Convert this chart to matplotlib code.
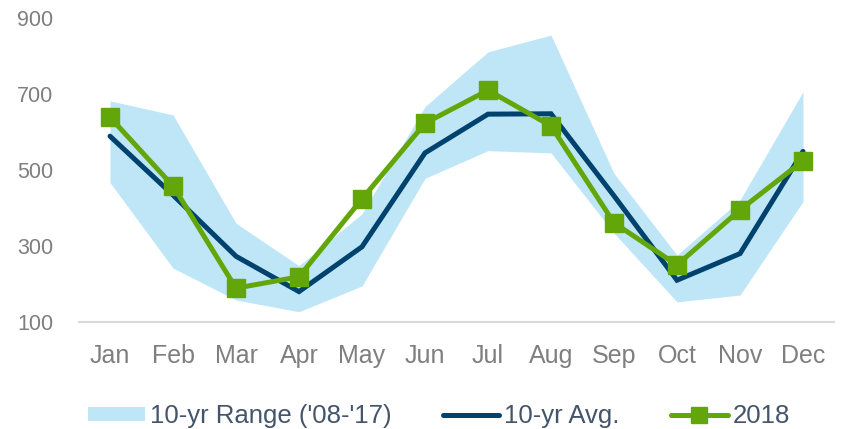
import matplotlib
matplotlib.use("Agg")
import matplotlib.pyplot as plt
import numpy as np
from matplotlib.patches import Patch
from matplotlib.lines import Line2D

months = ["Jan", "Feb", "Mar", "Apr", "May", "Jun",
          "Jul", "Aug", "Sep", "Oct", "Nov", "Dec"]
range_low = [467, 242, 158, 127, 195, 478, 551, 545, 334, 153, 171, 417]
range_high = [682, 645, 360, 248, 385, 667, 811, 855, 491, 276, 421, 706]
avg_10yr = [589, 434, 273, 180, 298, 545, 647, 648, 432, 210, 280, 549]
y2018 = [639, 458, 189, 219, 424, 623, 710, 616, 361, 250, 395, 524]
yticks = [100, 300, 500, 700, 900]

range_color = "#BFE6F6"
avg_color = "#00426E"
green = "#62A60A"

plt.rcParams["font.family"] = ["Liberation Sans", "DejaVu Sans"]

fig = plt.figure(figsize=(8.46, 4.29), dpi=100)
ax = fig.add_axes([0.0928, 0.2494, 0.8936, 0.7086])

x = np.arange(len(months))
ax.fill_between(x, range_low, range_high, color=range_color, lw=0)
ax.plot(x, avg_10yr, color=avg_color, lw=3.6, solid_capstyle="round",
        solid_joinstyle="miter")
ax.plot(x, y2018, color=green, lw=3.6, marker="s", markersize=13.5,
        solid_joinstyle="miter")

ax.set_xlim(-0.5, len(months) - 0.5)
ax.set_ylim(100, 900)
ax.set_xticks(x)
ax.set_xticklabels(months)
ax.set_yticks(yticks)
ax.tick_params(axis="x", length=0, pad=16, labelsize=18, colors="#7F7F7F")
ax.tick_params(axis="y", length=0, pad=18, labelsize=15.5, colors="#7F7F7F")
for s in ["top", "right", "left"]:
    ax.spines[s].set_visible(False)
ax.spines["bottom"].set_color("#D9D9D9")
ax.spines["bottom"].set_linewidth(1.5)

handles = [
    Patch(facecolor=range_color, edgecolor="none"),
    Line2D([], [], color=avg_color, lw=3.6, solid_capstyle="round"),
    Line2D([], [], color=green, lw=3.6, marker="s", markersize=12,
           solid_capstyle="round"),
]
labels = ["10-yr Range ('08-'17)", "10-yr Avg.", "2018"]
leg = fig.legend(handles, labels, loc="center", bbox_to_anchor=(0.519, 0.03),
                 ncol=3, frameon=False, fontsize=18.5, handlelength=2.2,
                 handleheight=0.5, handletextpad=0.2, columnspacing=2.0,
                 labelcolor="#44546A")

fig.savefig("out.png", dpi=100)
